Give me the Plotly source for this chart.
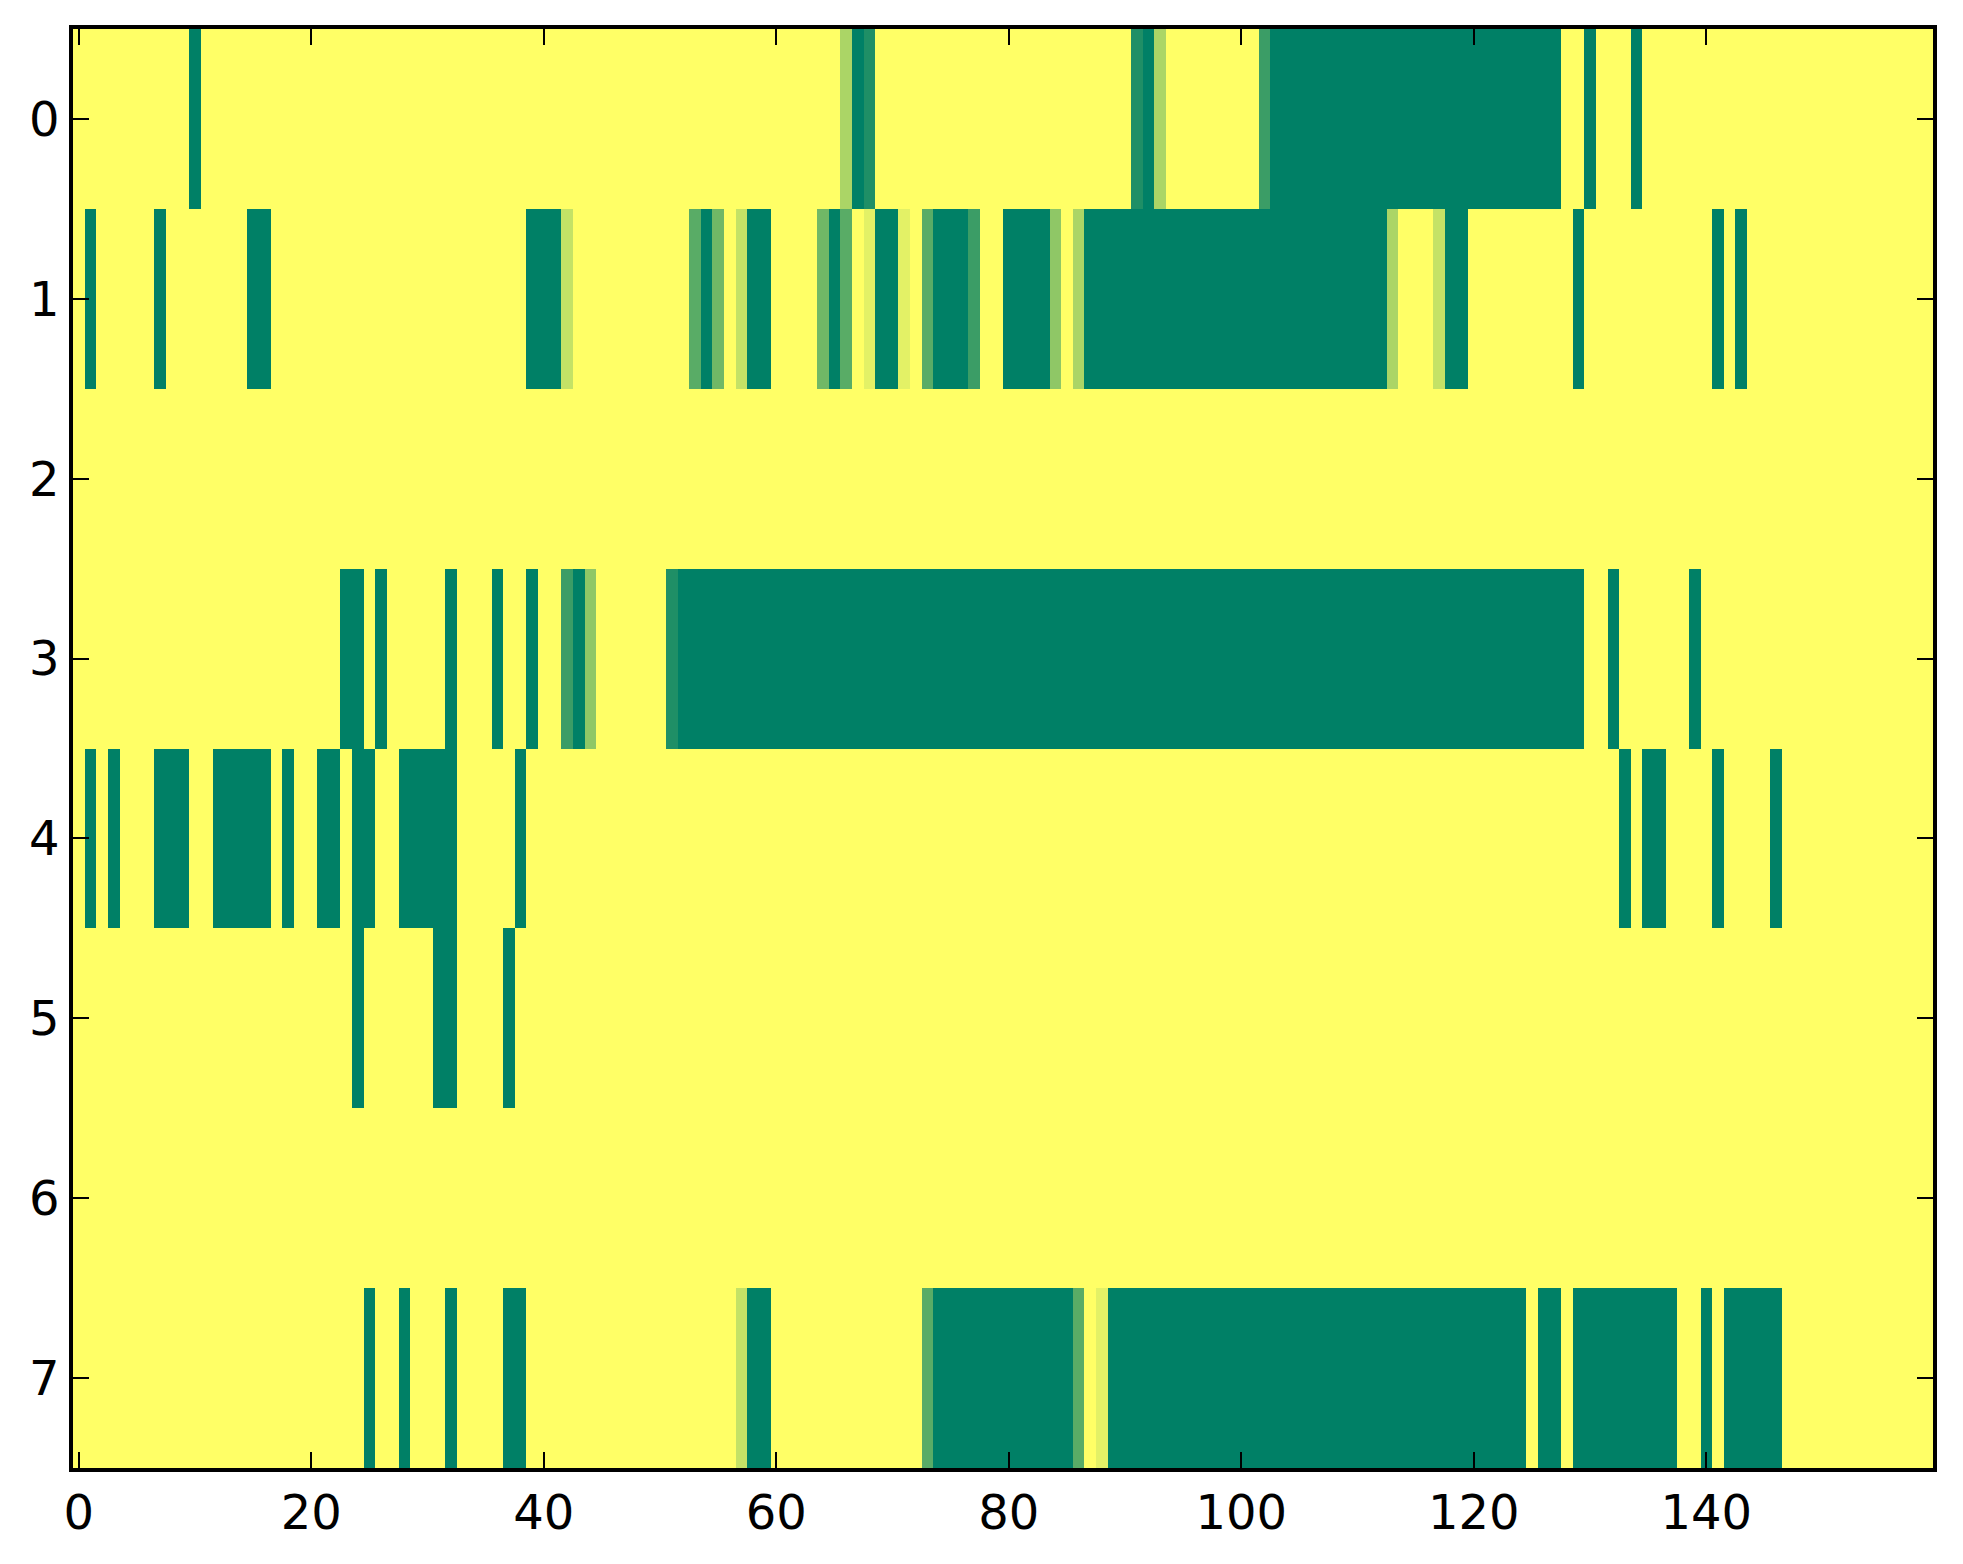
import plotly.graph_objects as go

# 8 rows x 160 columns, values on the "summer" scale (0 = green, 1 = yellow)
row_0 = [
    1, 1, 1, 1, 1, 1, 1, 1, 1, 1,
    0, 1, 1, 1, 1, 1, 1, 1, 1, 1,
    1, 1, 1, 1, 1, 1, 1, 1, 1, 1,
    1, 1, 1, 1, 1, 1, 1, 1, 1, 1,
    1, 1, 1, 1, 1, 1, 1, 1, 1, 1,
    1, 1, 1, 1, 1, 1, 1, 1, 1, 1,
    1, 1, 1, 1, 1, 1, .67, 0, .12, 1,
    1, 1, 1, 1, 1, 1, 1, 1, 1, 1,
    1, 1, 1, 1, 1, 1, 1, 1, 1, 1,
    1, .12, 0, .67, 1, 1, 1, 1, 1, 1,
    1, 1, .23, 0, 0, 0, 0, 0, 0, 0,
    0, 0, 0, 0, 0, 0, 0, 0, 0, 0,
    0, 0, 0, 0, 0, 0, 0, 0, 1, 1,
    0, 1, 1, 1, 0, 1, 1, 1, 1, 1,
    1, 1, 1, 1, 1, 1, 1, 1, 1, 1,
    1, 1, 1, 1, 1, 1, 1, 1, 1, 1,
]
row_1 = [
    1, 0, 1, 1, 1, 1, 1, 0, 1, 1,
    1, 1, 1, 1, 1, 0, 0, 1, 1, 1,
    1, 1, 1, 1, 1, 1, 1, 1, 1, 1,
    1, 1, 1, 1, 1, 1, 1, 1, 1, 0,
    0, 0, .77, 1, 1, 1, 1, 1, 1, 1,
    1, 1, 1, .35, 0, .44, 1, .77, 0, 0,
    1, 1, 1, 1, .44, 0, .35, 1, .89, 0,
    0, .89, 1, .35, 0, 0, 0, .23, 1, 1,
    0, 0, 0, 0, .56, 1, .67, 0, 0, 0,
    0, 0, 0, 0, 0, 0, 0, 0, 0, 0,
    0, 0, 0, 0, 0, 0, 0, 0, 0, 0,
    0, 0, 0, .67, 1, 1, 1, .77, 0, 0,
    1, 1, 1, 1, 1, 1, 1, 1, 1, 0,
    1, 1, 1, 1, 1, 1, 1, 1, 1, 1,
    1, 0, 1, 0, 1, 1, 1, 1, 1, 1,
    1, 1, 1, 1, 1, 1, 1, 1, 1, 1,
]
row_2 = [
    1, 1, 1, 1, 1, 1, 1, 1, 1, 1,
    1, 1, 1, 1, 1, 1, 1, 1, 1, 1,
    1, 1, 1, 1, 1, 1, 1, 1, 1, 1,
    1, 1, 1, 1, 1, 1, 1, 1, 1, 1,
    1, 1, 1, 1, 1, 1, 1, 1, 1, 1,
    1, 1, 1, 1, 1, 1, 1, 1, 1, 1,
    1, 1, 1, 1, 1, 1, 1, 1, 1, 1,
    1, 1, 1, 1, 1, 1, 1, 1, 1, 1,
    1, 1, 1, 1, 1, 1, 1, 1, 1, 1,
    1, 1, 1, 1, 1, 1, 1, 1, 1, 1,
    1, 1, 1, 1, 1, 1, 1, 1, 1, 1,
    1, 1, 1, 1, 1, 1, 1, 1, 1, 1,
    1, 1, 1, 1, 1, 1, 1, 1, 1, 1,
    1, 1, 1, 1, 1, 1, 1, 1, 1, 1,
    1, 1, 1, 1, 1, 1, 1, 1, 1, 1,
    1, 1, 1, 1, 1, 1, 1, 1, 1, 1,
]
row_3 = [
    1, 1, 1, 1, 1, 1, 1, 1, 1, 1,
    1, 1, 1, 1, 1, 1, 1, 1, 1, 1,
    1, 1, 1, 0, 0, 1, 0, 1, 1, 1,
    1, 1, 0, 1, 1, 1, 0, 1, 1, 0,
    1, 1, .23, 0, .56, 1, 1, 1, 1, 1,
    1, .12, 0, 0, 0, 0, 0, 0, 0, 0,
    0, 0, 0, 0, 0, 0, 0, 0, 0, 0,
    0, 0, 0, 0, 0, 0, 0, 0, 0, 0,
    0, 0, 0, 0, 0, 0, 0, 0, 0, 0,
    0, 0, 0, 0, 0, 0, 0, 0, 0, 0,
    0, 0, 0, 0, 0, 0, 0, 0, 0, 0,
    0, 0, 0, 0, 0, 0, 0, 0, 0, 0,
    0, 0, 0, 0, 0, 0, 0, 0, 0, 0,
    1, 1, 0, 1, 1, 1, 1, 1, 1, 0,
    1, 1, 1, 1, 1, 1, 1, 1, 1, 1,
    1, 1, 1, 1, 1, 1, 1, 1, 1, 1,
]
row_4 = [
    1, 0, 1, 0, 1, 1, 1, 0, 0, 0,
    1, 1, 0, 0, 0, 0, 0, 1, 0, 1,
    1, 0, 0, 1, 0, 0, 1, 1, 0, 0,
    0, 0, 0, 1, 1, 1, 1, 1, 0, 1,
    1, 1, 1, 1, 1, 1, 1, 1, 1, 1,
    1, 1, 1, 1, 1, 1, 1, 1, 1, 1,
    1, 1, 1, 1, 1, 1, 1, 1, 1, 1,
    1, 1, 1, 1, 1, 1, 1, 1, 1, 1,
    1, 1, 1, 1, 1, 1, 1, 1, 1, 1,
    1, 1, 1, 1, 1, 1, 1, 1, 1, 1,
    1, 1, 1, 1, 1, 1, 1, 1, 1, 1,
    1, 1, 1, 1, 1, 1, 1, 1, 1, 1,
    1, 1, 1, 1, 1, 1, 1, 1, 1, 1,
    1, 1, 1, 0, 1, 0, 0, 1, 1, 1,
    1, 0, 1, 1, 1, 1, 0, 1, 1, 1,
    1, 1, 1, 1, 1, 1, 1, 1, 1, 1,
]
row_5 = [
    1, 1, 1, 1, 1, 1, 1, 1, 1, 1,
    1, 1, 1, 1, 1, 1, 1, 1, 1, 1,
    1, 1, 1, 1, 0, 1, 1, 1, 1, 1,
    1, 0, 0, 1, 1, 1, 1, 0, 1, 1,
    1, 1, 1, 1, 1, 1, 1, 1, 1, 1,
    1, 1, 1, 1, 1, 1, 1, 1, 1, 1,
    1, 1, 1, 1, 1, 1, 1, 1, 1, 1,
    1, 1, 1, 1, 1, 1, 1, 1, 1, 1,
    1, 1, 1, 1, 1, 1, 1, 1, 1, 1,
    1, 1, 1, 1, 1, 1, 1, 1, 1, 1,
    1, 1, 1, 1, 1, 1, 1, 1, 1, 1,
    1, 1, 1, 1, 1, 1, 1, 1, 1, 1,
    1, 1, 1, 1, 1, 1, 1, 1, 1, 1,
    1, 1, 1, 1, 1, 1, 1, 1, 1, 1,
    1, 1, 1, 1, 1, 1, 1, 1, 1, 1,
    1, 1, 1, 1, 1, 1, 1, 1, 1, 1,
]
row_6 = list(row_2)
row_7 = [
    1, 1, 1, 1, 1, 1, 1, 1, 1, 1,
    1, 1, 1, 1, 1, 1, 1, 1, 1, 1,
    1, 1, 1, 1, 1, 0, 1, 1, 0, 1,
    1, 1, 0, 1, 1, 1, 1, 0, 0, 1,
    1, 1, 1, 1, 1, 1, 1, 1, 1, 1,
    1, 1, 1, 1, 1, 1, 1, .77, 0, 0,
    1, 1, 1, 1, 1, 1, 1, 1, 1, 1,
    1, 1, 1, .35, 0, 0, 0, 0, 0, 0,
    0, 0, 0, 0, 0, 0, .35, 1, .89, 0,
    0, 0, 0, 0, 0, 0, 0, 0, 0, 0,
    0, 0, 0, 0, 0, 0, 0, 0, 0, 0,
    0, 0, 0, 0, 0, 0, 0, 0, 0, 0,
    0, 0, 0, 0, 0, 1, 0, 0, 1, 0,
    0, 0, 0, 0, 0, 0, 0, 0, 1, 1,
    0, 1, 0, 0, 0, 0, 0, 1, 1, 1,
    1, 1, 1, 1, 1, 1, 1, 1, 1, 1,
]

z = [row_0, row_1, row_2, row_3, row_4, row_5, row_6, row_7]
x_ticks = [0, 20, 40, 60, 80, 100, 120, 140]
y_ticks = [0, 1, 2, 3, 4, 5, 6, 7]

# matplotlib "summer": green -> yellow
summer = [[0, "rgb(0,128,102)"], [1, "rgb(255,255,102)"]]

fig = go.Figure(go.Heatmap(z=z, colorscale=summer, zmin=0, zmax=1,
                           showscale=False, hoverinfo="skip"))

axis_style = dict(showline=True, linecolor="black", linewidth=3.5, mirror="ticks",
                  ticks="inside", ticklen=16, tickwidth=2, tickcolor="black",
                  showgrid=False, zeroline=False,
                  tickfont=dict(family="DejaVu Sans", size=48, color="black"))

fig.update_xaxes(range=[-0.5, 159.5], tickmode="array", tickvals=x_ticks, **axis_style)
fig.update_yaxes(range=[7.5, -0.5], tickmode="array", tickvals=y_ticks, **axis_style)

# page body has an 8px margin, so the figure is a bit smaller than the window
fig.update_layout(width=1947, height=1548,
                  margin=dict(l=65, r=22, t=21, b=88),
                  paper_bgcolor="white", plot_bgcolor="white")

fig.write_html("out.html")
